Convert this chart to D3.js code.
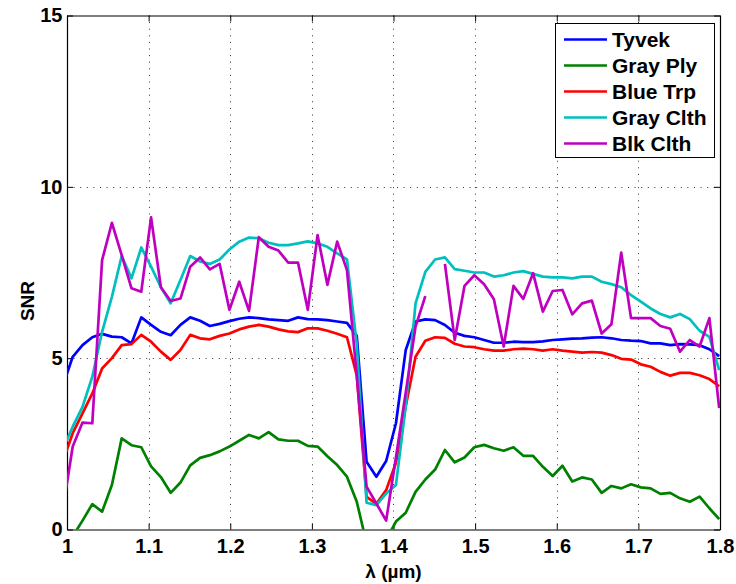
<!DOCTYPE html>
<html>
<head>
<meta charset="utf-8">
<script src="https://cdn.jsdelivr.net/npm/d3@7"></script>
<style>
  html, body { margin: 0; padding: 0; background: #fff; }
  svg { display: block; }
  text { font-family: "Liberation Sans", Arial, Helvetica, sans-serif; font-weight: bold; fill: #000; }
</style>
</head>
<body>
<svg id="chart" width="736" height="584"></svg>
<script>
// Wavelength samples (µm)
const wavelength = [
  0.995, 1.007, 1.019, 1.031, 1.043, 1.055, 1.067, 1.079, 1.091, 1.103,
  1.115, 1.127, 1.139, 1.151, 1.163, 1.175, 1.187, 1.199, 1.211, 1.223,
  1.235, 1.247, 1.259, 1.271, 1.283, 1.295, 1.307, 1.319, 1.331, 1.343,
  1.355, 1.367, 1.379, 1.391, 1.403, 1.415, 1.427, 1.439, 1.451, 1.463,
  1.475, 1.487, 1.499, 1.511, 1.523, 1.535, 1.547, 1.559, 1.571, 1.583,
  1.595, 1.607, 1.619, 1.631, 1.643, 1.655, 1.667, 1.679, 1.691, 1.703,
  1.715, 1.727, 1.739, 1.751, 1.763, 1.775, 1.787, 1.799
];

// SNR per material (null = missing sample)
const tyvek = [
  4.20, 5.04, 5.38, 5.61, 5.71, 5.63, 5.61, 5.43, 6.19, 5.97,
  5.77, 5.67, 5.97, 6.19, 6.09, 5.94, 6.00, 6.08, 6.15, 6.19,
  6.17, 6.13, 6.11, 6.09, 6.19, 6.14, 6.13, 6.11, 6.07, 6.03,
  5.65, 1.98, 1.54, 2.00, 3.10, 5.24, 6.07, 6.13, 6.11, 5.97,
  5.74, 5.65, 5.61, 5.53, 5.45, 5.45, 5.48, 5.47, 5.47, 5.49,
  5.53, 5.55, 5.57, 5.58, 5.60, 5.61, 5.58, 5.53, 5.51, 5.50,
  5.43, 5.43, 5.38, 5.41, 5.40, 5.38, 5.26, 5.06
];
const grayPly = [
  -0.60, -0.20, 0.26, 0.74, 0.52, 1.30, 2.66, 2.46, 2.40, 1.84,
  1.53, 1.07, 1.37, 1.87, 2.09, 2.17, 2.28, 2.42, 2.59, 2.76,
  2.66, 2.84, 2.63, 2.59, 2.59, 2.44, 2.42, 2.14, 1.88, 1.54,
  0.81, -0.40, -0.50, -0.30, 0.23, 0.49, 1.10, 1.46, 1.75, 2.32,
  1.96, 2.10, 2.40, 2.47, 2.37, 2.30, 2.40, 2.15, 2.15, 1.83,
  1.56, 1.86, 1.40, 1.52, 1.46, 1.07, 1.27, 1.20, 1.32, 1.23,
  1.20, 1.04, 1.07, 0.91, 0.81, 0.96, 0.62, 0.30
];
const blueTrp = [
  2.00, 2.81, 3.39, 3.97, 4.70, 5.00, 5.38, 5.41, 5.68, 5.48,
  5.19, 4.95, 5.24, 5.68, 5.58, 5.55, 5.65, 5.72, 5.84, 5.92,
  5.97, 5.92, 5.84, 5.78, 5.76, 5.87, 5.87, 5.80, 5.71, 5.61,
  4.50, 0.95, 0.75, 1.15, 1.95, 3.60, 5.04, 5.51, 5.61, 5.59,
  5.42, 5.34, 5.32, 5.26, 5.22, 5.22, 5.26, 5.28, 5.26, 5.22,
  5.26, 5.22, 5.19, 5.16, 5.18, 5.16, 5.09, 4.98, 4.96, 4.82,
  4.75, 4.60, 4.49, 4.57, 4.57, 4.50, 4.39, 4.18
];
const grayClth = [
  2.35, 3.00, 3.58, 4.46, 5.77, 6.79, 7.98, 7.33, 8.23, 7.67,
  7.07, 6.60, 7.28, 7.98, 7.82, 7.75, 7.88, 8.17, 8.40, 8.52,
  8.50, 8.37, 8.30, 8.30, 8.35, 8.41, 8.35, 8.25, 8.06, 7.88,
  5.40, 0.78, 0.71, 1.05, 1.30, 3.60, 6.60, 7.52, 7.88, 7.94,
  7.60, 7.55, 7.50, 7.50, 7.38, 7.42, 7.50, 7.54, 7.46, 7.38,
  7.36, 7.36, 7.33, 7.38, 7.38, 7.23, 7.16, 7.07, 6.84, 6.65,
  6.45, 6.29, 6.19, 6.29, 6.14, 5.80, 5.62, 4.65
];
const blkClth = [
  0.60, 2.42, 3.12, 3.10, 7.86, 8.95, 8.01, 7.04, 6.94, 9.11,
  7.07, 6.67, 6.74, 7.67, 7.94, 7.59, 7.75, 6.41, 7.23, 6.38,
  8.53, 8.25, 8.14, 7.79, 7.79, 6.41, 8.59, 7.14, 8.40, 7.57,
  4.50, 1.25, 0.76, 0.26, 2.10, 4.00, 5.92, 6.81, null, 7.75,
  5.53, 7.11, 7.42, 7.16, 6.72, 5.34, 7.11, 6.73, 7.48, 6.36,
  6.96, 6.99, 6.28, 6.60, 6.68, 5.72, 5.99, 8.08, 6.17, 6.17,
  6.17, 5.94, 5.86, 5.19, 5.53, 5.34, 6.17, 3.54
];

const seriesNames = ["Tyvek", "Gray Ply", "Blue Trp", "Gray Clth", "Blk Clth"];
const seriesColors = ["#0000ff", "#008000", "#ff0000", "#00bfbf", "#bf00bf"];
const seriesValues = [tyvek, grayPly, blueTrp, grayClth, blkClth];

const xTicks = [1, 1.1, 1.2, 1.3, 1.4, 1.5, 1.6, 1.7, 1.8];
const yTicks = [0, 5, 10, 15];

const svg = d3.select("#chart");
const plotLeft = 67, plotRight = 720, plotTop = 15.5, plotBottom = 529.5;

const x = d3.scaleLinear().domain([1, 1.8]).range([plotLeft, plotRight]);
const y = d3.scaleLinear().domain([0, 15]).range([plotBottom, plotTop]);

svg.append("rect").attr("width", 736).attr("height", 584).attr("fill", "#fff");

svg.append("defs").append("clipPath").attr("id", "plotClip")
  .append("rect").attr("x", plotLeft).attr("y", plotTop)
  .attr("width", plotRight - plotLeft).attr("height", plotBottom - plotTop);

// Dotted grid
const grid = svg.append("g").attr("stroke", "#333").attr("stroke-width", 1)
  .attr("stroke-dasharray", "1,5.6");
grid.selectAll("line.gx").data(xTicks.slice(1, -1)).join("line")
  .attr("x1", d => Math.round(x(d)) + 0.5).attr("x2", d => Math.round(x(d)) + 0.5)
  .attr("y1", plotTop).attr("y2", plotBottom);
grid.selectAll("line.gy").data(yTicks.slice(1, -1)).join("line")
  .attr("x1", plotLeft).attr("x2", plotRight)
  .attr("y1", d => Math.round(y(d)) + 0.5).attr("y2", d => Math.round(y(d)) + 0.5);

// Axes with inward ticks
const fmtX = d => String(Math.round(d * 10) / 10);
const axB = svg.append("g").attr("transform", `translate(0,${plotBottom})`)
  .call(d3.axisBottom(x).tickValues(xTicks).tickFormat(fmtX).tickSizeInner(-6).tickSizeOuter(0).tickPadding(9.5));
const axT = svg.append("g").attr("transform", `translate(0,${plotTop})`)
  .call(d3.axisTop(x).tickValues(xTicks).tickFormat("").tickSizeInner(-6).tickSizeOuter(0));
const axL = svg.append("g").attr("transform", `translate(${plotLeft},0)`)
  .call(d3.axisLeft(y).tickValues(yTicks).tickSizeInner(-6).tickSizeOuter(0).tickPadding(4.5));
const axR = svg.append("g").attr("transform", `translate(${plotRight},0)`)
  .call(d3.axisRight(y).tickValues(yTicks).tickFormat("").tickSizeInner(-6).tickSizeOuter(0));

[axB, axT, axL, axR].forEach(g => {
  g.select(".domain").attr("stroke", "#000").attr("stroke-width", 1.2);
  g.selectAll(".tick line").attr("stroke", "#000").attr("stroke-width", 1);
  g.selectAll("text").attr("font-size", 20).attr("font-weight", "bold")
    .attr("font-family", '"Liberation Sans", Arial, sans-serif').attr("fill", "#000");
});

// Series lines
const line = d3.line()
  .defined(d => d.v !== null)
  .x(d => x(d.w))
  .y(d => y(d.v));

const plot = svg.append("g").attr("clip-path", "url(#plotClip)");
seriesValues.forEach((vals, i) => {
  const pts = wavelength.map((w, k) => ({ w, v: vals[k] }));
  plot.append("path").datum(pts)
    .attr("fill", "none")
    .attr("stroke", seriesColors[i])
    .attr("stroke-width", 2.7)
    .attr("stroke-linejoin", "round")
    .attr("d", line);
});

// Axis labels
svg.append("text")
  .attr("x", (plotLeft + plotRight) / 2).attr("y", 578)
  .attr("text-anchor", "middle").attr("font-size", 19)
  .text("λ (µm)");
svg.append("text")
  .attr("transform", "translate(34,301) rotate(-90)")
  .attr("text-anchor", "middle").attr("font-size", 19)
  .text("SNR");

// Legend
const legend = svg.append("g");
legend.append("rect")
  .attr("x", 555.5).attr("y", 23.5).attr("width", 159).attr("height", 134)
  .attr("fill", "#fff").attr("stroke", "#000").attr("stroke-width", 1);
const rowY = d3.scalePoint().domain(seriesNames).range([39.5, 143.5]);
seriesNames.forEach((name, i) => {
  const yy = rowY(name);
  legend.append("line")
    .attr("x1", 564).attr("x2", 607).attr("y1", yy).attr("y2", yy)
    .attr("stroke", seriesColors[i]).attr("stroke-width", 2.7);
  legend.append("text")
    .attr("x", 612).attr("y", yy).attr("dy", "0.36em")
    .attr("font-size", 21)
    .text(name);
});
</script>
</body>
</html>
